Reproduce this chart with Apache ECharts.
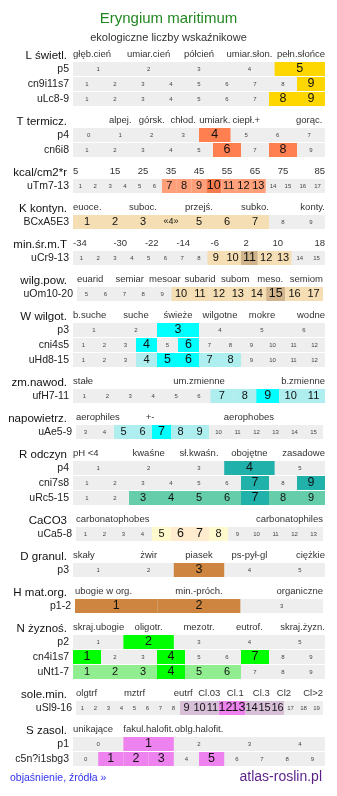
<!DOCTYPE html>
<html>
<head>
<meta charset="utf-8">
<script src="https://cdn.jsdelivr.net/npm/echarts@6/dist/echarts.min.js"></script>
<style>
  html, body { margin: 0; padding: 0; background: #fff; }
  #chart { width: 337px; height: 796px; }
</style>
</head>
<body>
<div id="chart"></div>
<script>
const FONT = '"Liberation Sans", Arial, sans-serif'

// cell scales (tick labels of each row)
const c0to4 = ['0', '1', '2', '3', '4']
const c0to7 = ['0', '1', '2', '3', '4', '5', '6', '7']
const c0to9 = ['0', '1', '2', '3', '4', '5', '6', '7', '8', '9']
const c1to3 = ['1', '2', '3']
const c1to5 = ['1', '2', '3', '4', '5']
const c1to6 = ['1', '2', '3', '4', '5', '6']
const c1to9 = ['1', '2', '3', '4', '5', '6', '7', '8', '9']
const c1to11 = ['1', '2', '3', '4', '5', '6', '7', '8', '9', '10', '11']
const c1to12 = ['1', '2', '3', '4', '5', '6', '7', '8', '9', '10', '11', '12']
const c1to13 = ['1', '2', '3', '4', '5', '6', '7', '8', '9', '10', '11', '12', '13']
const c1to15 = ['1', '2', '3', '4', '5', '6', '7', '8', '9', '10', '11', '12', '13', '14', '15']
const c1to17 = ['1', '2', '3', '4', '5', '6', '7', '8', '9', '10', '11', '12', '13', '14', '15', '16', '17']
const c1to19 = ['1', '2', '3', '4', '5', '6', '7', '8', '9', '10', '11', '12', '13', '14', '15', '16', '17', '18', '19']
const c3to15 = ['3', '4', '5', '6', '7', '8', '9', '10', '11', '12', '13', '14', '15']
const c5to17 = ['5', '6', '7', '8', '9', '10', '11', '12', '13', '14', '15', '16', '17']
const cKont = ['1', '2', '3', '«4»', '5', '6', '7', '8', '9']

// header labels: [position in cells, text]
const lHead = [[0, 'głęb.cień'], [1.5, 'umiar.cień'], [2.5, 'półcień'], [3.5, 'umiar.słon.'], [5, 'pełn.słońce']]
const tHead = [[1.5, 'alpej.'], [2.5, 'górsk.'], [3.5, 'chłod.'], [4.5, 'umiark.'], [5.5, 'ciepł.+'], [7.5, 'gorąc.']]
const kcalHead = [[0, '5'], [1.5, '15'], [2.5, '25'], [3.5, '35'], [4.5, '45'], [5.5, '55'], [6.5, '65'], [7.5, '75'], [9, '85']]
const kHead = [[0, 'euoce.'], [2.5, 'suboc.'], [4.5, 'przejś.'], [6.5, 'subko.'], [9, 'konty.']]
const minHead = [[0, '-34'], [1.5, '-30'], [2.5, '-22'], [3.5, '-14'], [4.5, '-6'], [5.5, '2'], [6.5, '10'], [8, '18']]
const wilgHead = [[0, 'euarid'], [1.5, 'semiar'], [2.5, 'mesoar'], [3.5, 'subarid'], [4.5, 'subom'], [5.5, 'meso.'], [7, 'semiom']]
const wHead = [[0, 'b.suche'], [1.5, 'suche'], [2.5, 'świeże'], [3.5, 'wilgotne'], [4.5, 'mokre'], [6, 'wodne']]
const zmHead = [[0, 'stałe'], [1.5, 'um.zmienne'], [3, 'b.zmienne']]
const napHead = [[0, 'aerophiles'], [1.5, '+-'], [3.5, 'aerophobes']]
const rHead = [[0, 'pH <4'], [1.5, 'kwaśne'], [2.5, 'sł.kwaśn.'], [3.5, 'obojętne'], [5, 'zasadowe']]
const caHead = [[0, 'carbonatophobes'], [2, 'carbonatophiles']]
const dHead = [[0, 'skały'], [1.5, 'żwir'], [2.5, 'piasek'], [3.5, 'ps-pył-gl'], [5, 'ciężkie']]
const hHead = [[0, 'ubogie w org.'], [1.5, 'min.-próch.'], [3, 'organiczne']]
const nHead = [[0, 'skraj.ubogie'], [1.5, 'oligotr.'], [2.5, 'mezotr.'], [3.5, 'eutrof.'], [5, 'skraj.żyzn.']]
const soleHead = [[0, 'olgtrf'], [4.5, 'mztrf'], [8.25, 'eutrf'], [10.25, 'Cl.03'], [12.25, 'Cl.1'], [14.25, 'Cl.3'], [16, 'Cl2'], [19, 'Cl>2']]
const sHead = [[0, 'unikające'], [1.5, 'fakul.halofit.'], [2.5, 'oblg.halofit.']]

// rows: [label, cells, light values, main values]
const lRows = [
  ['p5', c1to5, [], ['5']],
  ['cn9i11s7', c1to9, [], ['9']],
  ['uLc8-9', c1to9, [], ['8', '9']],
]
const tRows = [
  ['p4', c0to7, [], ['4']],
  ['cn6i8', c1to9, [], ['6', '8']],
]
const kcalRows = [['uTm7-13', c1to17, ['7', '8', '9', '11', '12', '13'], ['10']]]
const kRows = [['BCxA5E3', cKont, ['1', '2', '3', '«4»', '5', '6', '7'], []]]
const minRows = [['uCr9-13', c1to15, ['9', '10', '12', '13'], ['11']]]
const wilgRows = [['uOm10-20', c5to17, ['10', '11', '12', '13', '14', '16', '17'], ['15']]]
const wRows = [
  ['p3', c1to6, [], ['3']],
  ['cni4s5', c1to12, [], ['4', '6']],
  ['uHd8-15', c1to12, ['4', '7', '8'], ['5', '6']],
]
const zmRows = [['ufH7-11', c1to11, ['7', '8', '10', '11'], ['9']]]
const napRows = [['uAe5-9', c3to15, ['5', '6', '8', '9'], ['7']]]
const rRows = [
  ['p4', c1to5, [], ['4']],
  ['cni7s8', c1to9, [], ['7', '9']],
  ['uRc5-15', c1to9, ['3', '4', '5', '6', '8', '9'], ['7']],
]
const caRows = [['uCa5-8', c1to13, ['5', '8'], ['6', '7']]]
const dRows = [['p3', c1to5, [], ['3']]]
const hRows = [['p1-2', c1to3, [], ['1', '2']]]
const nRows = [
  ['p2', c1to5, [], ['2']],
  ['cn4i1s7', c1to9, [], ['1', '4', '7']],
  ['uNt1-7', c1to9, ['1', '2', '3', '5', '6'], ['4']],
]
const soleRows = [['uSl9-16', c1to19, ['9', '10', '11', '14', '15', '16'], ['12', '13']]]
const sRows = [
  ['p1', c0to4, [], ['1']],
  ['c5n?i1sbg3', c0to9, [], ['1', '2', '3', '5']],
]

const groups = [
  { name: 'L świetl.', n: 5, head: lHead, rows: lRows, light: '#ffd700', main: '#ffd700' },
  { name: 'T termicz.', n: 8, head: tHead, rows: tRows, light: '#ffa07a', main: '#ff7f50' },
  { name: 'kcal/cm2*r', n: 9, head: kcalHead, rows: kcalRows, light: '#ffa07a', main: '#f57a4c' },
  { name: 'K kontyn.', n: 9, head: kHead, rows: kRows, light: '#f5deb3', main: '#d2b48c' },
  { name: 'min.śr.m.T', n: 8, head: minHead, rows: minRows, light: '#f5deb3', main: '#d2b48c' },
  { name: 'wilg.pow.', n: 7, head: wilgHead, rows: wilgRows, light: '#f5deb3', main: '#d2b48c' },
  { name: 'W wilgot.', n: 6, head: wHead, rows: wRows, light: '#afeeee', main: '#00ffff' },
  { name: 'zm.nawod.', n: 3, head: zmHead, rows: zmRows, light: '#afeeee', main: '#00ffff' },
  { name: 'napowietrz.', n: 5, head: napHead, rows: napRows, light: '#afeeee', main: '#00ffff' },
  { name: 'R odczyn', n: 5, head: rHead, rows: rRows, light: '#66cdaa', main: '#20b2aa' },
  { name: 'CaCO3', n: 2, head: caHead, rows: caRows, light: '#fffacd', main: '#ffebcd' },
  { name: 'D granul.', n: 5, head: dHead, rows: dRows, light: '#cd853f', main: '#cd853f' },
  { name: 'H mat.org.', n: 3, head: hHead, rows: hRows, light: '#cd853f', main: '#cd853f' },
  { name: 'N żyznoś.', n: 5, head: nHead, rows: nRows, light: '#90ee90', main: '#00ff00' },
  { name: 'sole.min.', n: 19, head: soleHead, rows: soleRows, light: '#d8bfd8', main: '#ee82ee' },
  { name: 'S zasol.', n: 5, head: sHead, rows: sRows, light: '#ee82ee', main: '#ee82ee' },
]

// rows whose table is a bit narrower than the default
const rowBox = {
  'uOm10-20': [77, 246],
  'uAe5-9': [76, 247],
  'uCa5-8': [76, 247],
  'uSl9-16': [76, 247],
  'p1-2': [75, 248],
}

const grids = []
const xAxes = []
const yAxes = []
const series = []
let rowTop = 62

groups.forEach((g) => {
  g.rows.forEach(([label, cells, lightVals, mainVals], ri) => {
    const [left, width] = rowBox[label] || [73, 252]
    const gi = grids.length
    grids.push({
      left, width, top: rowTop, height: 14,
      show: true, backgroundColor: '#eeeeee', borderWidth: 0,
      outerBoundsMode: 'none',
    })
    const xi = xAxes.length
    xAxes.push({ type: 'category', gridIndex: gi, data: cells, show: false })

    // group header: name on the left, scale labels (quarter-cell slots) on top of the first row
    if (ri === 0) {
      const slots = new Array(4 * g.n + 1).fill('')
      g.head.forEach(([pos, text]) => {
        const align = pos === 0 ? 'left' : pos === g.n ? 'right' : 'center'
        slots[Math.round(pos * 4)] = { value: text, textStyle: { align } }
      })
      xAxes.push({
        type: 'category', gridIndex: gi, position: 'top', boundaryGap: false, data: slots,
        axisLine: { show: false }, axisTick: { show: false }, splitLine: { show: false },
        axisLabel: { interval: 0, margin: 3, fontSize: 9.5, color: '#333', fontFamily: FONT },
        name: g.name, nameLocation: 'start', nameGap: left - 67, nameMoveOverlap: false,
        nameTextStyle: { fontSize: 11.5, color: '#111', fontFamily: FONT, align: 'right', verticalAlign: 'bottom' },
      })
    }

    yAxes.push({
      type: 'value', gridIndex: gi, min: 0, max: 1,
      axisLine: { show: false }, axisTick: { show: false },
      axisLabel: { show: false }, splitLine: { show: false },
      name: label, nameLocation: 'middle', nameRotate: 0, nameGap: 4, nameMoveOverlap: false,
      nameTextStyle: { fontSize: 10.5, color: '#222', fontFamily: FONT, align: 'right', verticalAlign: 'middle' },
    })

    series.push({
      type: 'bar', xAxisIndex: xi, yAxisIndex: gi,
      barWidth: '100%', silent: true, animation: false,
      label: { show: true, position: 'inside', formatter: '{b}', fontFamily: FONT, textBorderWidth: 0 },
      data: cells.map((c) => {
        const lvl = mainVals.includes(c) ? 2 : lightVals.includes(c) ? 1 : 0
        let size = lvl === 2 ? 12.5 : lvl === 1 ? 11 : 6
        if (c.startsWith('«')) size = 9
        return {
          value: 1,
          itemStyle: { color: lvl === 2 ? g.main : lvl === 1 ? g.light : 'rgba(0,0,0,0)' },
          label: { fontSize: size, color: lvl ? '#111' : '#444' },
        }
      }),
    })
    rowTop += 15
  })
  rowTop += 21
})

const chart = echarts.init(document.getElementById('chart'))
chart.setOption({
  animation: false,
  textStyle: { fontFamily: FONT },
  title: [
    { text: 'Eryngium maritimum', left: 'center', top: 11, padding: 0,
      textStyle: { fontSize: 15, fontWeight: 'normal', color: '#228822', fontFamily: FONT } },
    { text: 'ekologiczne liczby wskaźnikowe', left: 'center', top: 32, padding: 0,
      textStyle: { fontSize: 11, fontWeight: 'normal', color: '#333', fontFamily: FONT } },
    { text: 'objaśnienie, źródła »', left: 10, top: 773, padding: 0,
      textStyle: { fontSize: 10.5, fontWeight: 'normal', color: '#3333ee', fontFamily: FONT } },
    { text: 'atlas-roslin.pl', right: 15, top: 770, padding: 0,
      textStyle: { fontSize: 14, fontWeight: 'normal', color: '#5b1f86', fontFamily: FONT } },
  ],
  grid: grids,
  xAxis: xAxes,
  yAxis: yAxes,
  series,
})
</script>
</body>
</html>
